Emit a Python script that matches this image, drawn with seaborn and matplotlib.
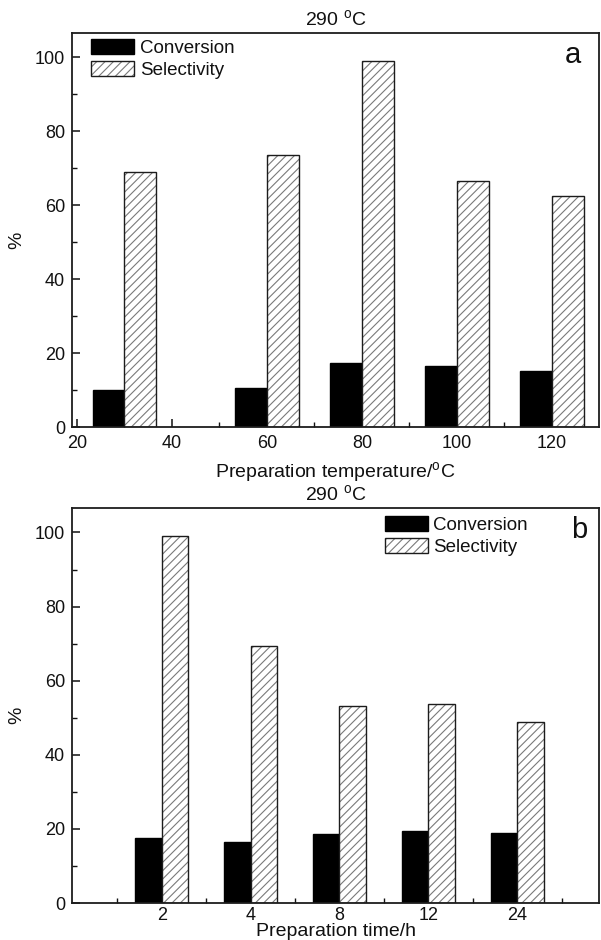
import matplotlib
matplotlib.use("Agg")
import matplotlib.pyplot as plt
import matplotlib.colors as mcolors
from matplotlib.ticker import MultipleLocator, FixedLocator
import pandas as pd
import seaborn as sns

# Panel a: effect of preparation temperature (reaction at 290 °C)
temp_c = [30, 60, 80, 100, 120]
temp_conversion = [10.0, 10.6, 17.4, 16.5, 15.2]
temp_selectivity = [69.0, 73.5, 98.9, 66.6, 62.4]

# Panel b: effect of preparation time (reaction at 290 °C)
time_labels = ["2", "4", "8", "12", "24"]
time_conversion = [17.5, 16.4, 18.5, 19.3, 18.9]
time_selectivity = [99.1, 69.3, 53.2, 53.7, 48.9]

metrics = ["Conversion", "Selectivity"]
palette = {"Conversion": "black", "Selectivity": "white"}

sns.set_style("ticks")
plt.rcParams["font.family"] = ["Liberation Sans", "DejaVu Sans"]
plt.rcParams["hatch.linewidth"] = 0.8
plt.rcParams["text.color"] = "#111111"
plt.rcParams["axes.labelcolor"] = "#111111"
plt.rcParams["xtick.color"] = "#111111"
plt.rcParams["ytick.color"] = "#111111"

INK = "#1c1c1c"
HATCH = "////"
HATCH_COLOR = "#7a7a7a"


def long_frame(key, keys, conv, sel):
    return pd.DataFrame({
        key: list(keys) * 2,
        "value": list(conv) + list(sel),
        "metric": ["Conversion"] * len(conv) + ["Selectivity"] * len(sel),
    })


def style_bars(ax):
    conv_handle = sel_handle = None
    for p in ax.patches:
        fc = mcolors.to_rgba(p.get_facecolor())
        if fc[0] > 0.5:  # white bars -> selectivity
            p.set_edgecolor(INK)
            p.set_linewidth(1.0)
            p.set_hatch(HATCH)
            if hasattr(p, "set_hatchcolor"):
                p.set_hatchcolor(HATCH_COLOR)
            else:
                p._hatch_color = mcolors.to_rgba(HATCH_COLOR)
            sel_handle = sel_handle or p
        else:
            p.set_edgecolor("black")
            p.set_linewidth(1.0)
            conv_handle = conv_handle or p
    return [conv_handle, sel_handle]


def style_axes(ax, letter, legend_anchor, xpad):
    ax.set_axisbelow(True)
    for s in ax.spines.values():
        s.set_visible(True)
        s.set_linewidth(1.3)
        s.set_color(INK)
    ax.set_ylim(0, 106.6)
    ax.yaxis.set_major_locator(MultipleLocator(20))
    ax.yaxis.set_minor_locator(MultipleLocator(10))
    ax.tick_params(axis="both", which="major", direction="in", length=6,
                   width=1.1, labelsize=13)
    ax.tick_params(axis="both", which="minor", direction="in", length=3.5,
                   width=1.0)
    ax.tick_params(axis="y", which="major", pad=5)
    ax.tick_params(axis="x", which="major", pad=xpad)
    ax.tick_params(top=False, right=False, which="both")
    ax.set_ylabel("%", fontsize=14)
    ax.yaxis.set_label_coords(-0.088, 0.475)
    ax.set_title("290 $^\\mathregular{o}$C", fontsize=14, pad=5)
    ax.text(letter[1], letter[2], letter[0], transform=ax.transAxes,
            fontsize=21, ha="center", va="baseline")
    handles = style_bars(ax)
    ax.legend(handles, metrics, loc="upper left", bbox_to_anchor=legend_anchor,
              frameon=False, fontsize=13.5, handlelength=2.3, handleheight=0.85,
              handletextpad=0.3, labelspacing=0.2, borderpad=0,
              borderaxespad=0)


fig = plt.figure(figsize=(6.01, 9.40), dpi=100)
ax_a = fig.add_axes([72 / 601, 1 - 427 / 940, 527 / 601, 394 / 940])
ax_b = fig.add_axes([72 / 601, 1 - 903 / 940, 527 / 601, 395 / 940])

# (a) numeric temperature axis, bars placed at their real positions
df_a = long_frame("temp", temp_c, temp_conversion, temp_selectivity)
sns.barplot(data=df_a, x="temp", y="value", hue="metric", hue_order=metrics,
            palette=palette, native_scale=True, width=0.67, errorbar=None,
            saturation=1, legend=False, ax=ax_a)
ax_a.set_xlim(18.95, 129.9)
ax_a.xaxis.set_major_locator(MultipleLocator(20))
ax_a.xaxis.set_minor_locator(MultipleLocator(10))
ax_a.set_xlabel("Preparation temperature/$^\\mathregular{o}$C", fontsize=14,
                labelpad=6)
style_axes(ax_a, ("a", 0.951, 0.924), (0.036, 0.985), 6)

# (b) categorical preparation-time axis
df_b = long_frame("time", time_labels, time_conversion, time_selectivity)
sns.barplot(data=df_b, x="time", y="value", hue="metric", hue_order=metrics,
            order=time_labels, palette=palette, width=0.6, errorbar=None,
            saturation=1, legend=False, ax=ax_b)
ax_b.set_xlim(-1.01, 4.92)
ax_b.xaxis.set_major_locator(FixedLocator(range(len(time_labels))))
ax_b.set_xticklabels(time_labels)
ax_b.xaxis.set_minor_locator(FixedLocator([i - 0.5 for i in range(len(time_labels) + 1)]))
ax_b.set_xlabel("Preparation time/h", fontsize=14, labelpad=-1)
style_axes(ax_b, ("b", 0.962, 0.924), (0.593, 0.98), 3)

fig.savefig("out.png", dpi=100)
